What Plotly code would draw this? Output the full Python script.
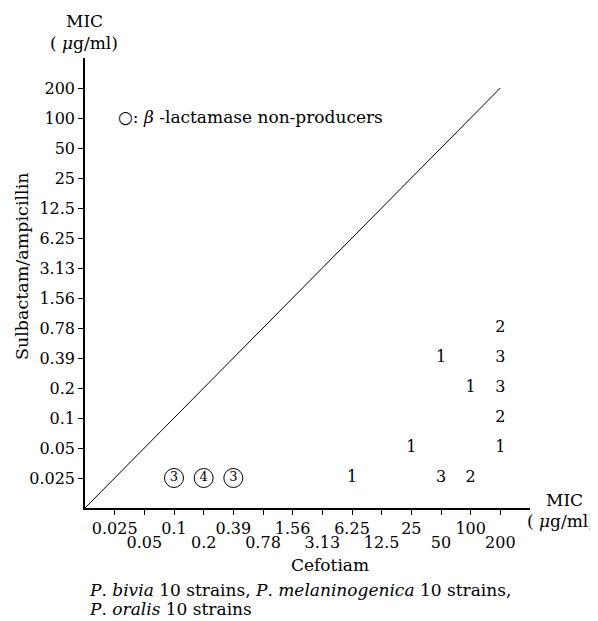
import plotly.graph_objects as go

# MIC dilution levels (µg/ml), used for both axes
mic_levels = ["0.025", "0.05", "0.1", "0.2", "0.39", "0.78", "1.56",
              "3.13", "6.25", "12.5", "25", "50", "100", "200"]

# beta-lactamase non-producers (circled counts)
nonprod_cefotiam = ["0.1", "0.2", "0.39"]
nonprod_sulbampi = ["0.025", "0.025", "0.025"]
nonprod_count = [3, 4, 3]

# other strains (plain counts)
prod_cefotiam = ["6.25", "50", "100", "25", "200", "200", "100", "200", "50", "200", "200"]
prod_sulbampi = ["0.025", "0.025", "0.025", "0.05", "0.05", "0.1", "0.2", "0.2", "0.39", "0.39", "0.78"]
prod_count = [1, 3, 2, 1, 1, 2, 1, 3, 1, 3, 2]

FONT = "DejaVu Serif"
FS = 16      # tick labels and counts
FA = 17      # annotation texts
OFF = 8      # page body margin
W, H = 598 - OFF, 621 - OFF
# plot area in window pixels: x 85..530, y 58..508
L, R, T, B = 85 - OFF, 598 - 530, 58 - OFF, 621 - 508
PW, PH = W - L - R, H - T - B


def pos(v):
    return mic_levels.index(v) + 1


def px(xp):
    return (xp - OFF - L) / PW


def py(yp):
    return (H - B - (yp - OFF)) / PH


fig = go.Figure()

# equality line
fig.add_trace(go.Scatter(x=[0, pos("200")], y=[0, pos("200")], mode="lines",
                         line=dict(color="black", width=1), hoverinfo="skip"))

fig.add_trace(go.Scatter(
    x=[pos(v) for v in nonprod_cefotiam], y=[pos(v) for v in nonprod_sulbampi],
    mode="markers+text", text=[str(n) for n in nonprod_count],
    textposition="middle center",
    textfont=dict(family=FONT, size=13, color="black"),
    marker=dict(symbol="circle-open", size=19, color="black", line=dict(width=1))))

fig.add_trace(go.Scatter(
    x=[pos(v) for v in prod_cefotiam], y=[pos(v) for v in prod_sulbampi],
    mode="text", text=[str(n) for n in prod_count],
    textposition="middle center",
    textfont=dict(family=FONT, size=FS, color="black")))

# invisible trace to carry the second (lower-row) x tick labels
fig.add_trace(go.Scatter(x=[0, 15], y=[0, 0], xaxis="x2", mode="lines",
                         line=dict(width=0), hoverinfo="skip", showlegend=False))

tickvals = list(range(1, len(mic_levels) + 1))
row1_vals = tickvals[0::2]
row1_text = mic_levels[0::2]
row2_vals = tickvals[1::2]
row2_text = mic_levels[1::2]

common = dict(range=[0, 15], ticks="outside", ticklen=5, tickcolor="black", tickwidth=1,
              showgrid=False, zeroline=False, automargin=False, tickangle=0,
              tickfont=dict(family=FONT, size=FS, color="black"))

fig.update_layout(
    xaxis=dict(tickvals=tickvals, ticktext=[t if t in row1_text else "" for t in mic_levels],
               showline=True, linecolor="black", linewidth=1.5, **common),
    xaxis2=dict(tickvals=row2_vals, ticktext=row2_text, overlaying="x", anchor="y",
                side="bottom", showline=False, ticklabelstandoff=15, **common),
    yaxis=dict(tickvals=tickvals, ticktext=mic_levels,
               showline=True, linecolor="black", linewidth=1.5, **common),
)

ann_font = dict(family=FONT, size=FA, color="black")
annotations = [
    dict(x=px(84), y=py(21), text="MIC"),
    dict(x=px(84), y=py(43), text="( <i>μ</i>g/ml)"),
    dict(x=px(564), y=py(500), text="MIC"),
    dict(x=px(597), y=py(521), text="( <i>μ</i>g/ml)", xanchor="right"),
    dict(x=px(330), y=py(565), text="Cefotiam"),
    dict(x=px(22), y=py(266), text="Sulbactam/ampicillin", textangle=-90,
         font=dict(family=FONT, size=17.5, color="black")),
    dict(x=px(116), y=py(117), text="○: <i>β</i> -lactamase non-producers", xanchor="left"),
    dict(x=px(87), y=py(590), text="<i>P</i>. <i>bivia</i> 10 strains, <i>P</i>. <i>melaninogenica</i> 10 strains,",
         xanchor="left"),
    dict(x=px(87), y=py(609), text="<i>P</i>. <i>oralis</i> 10 strains", xanchor="left"),
]
for a in annotations:
    a.setdefault("xanchor", "center")
    a.setdefault("font", ann_font)
    a.update(xref="paper", yref="paper", showarrow=False, yanchor="middle")

fig.update_layout(width=W, height=H, margin=dict(l=L, r=R, t=T, b=B),
                  plot_bgcolor="white", paper_bgcolor="white",
                  showlegend=False, annotations=annotations)

fig.write_html("out.html")
